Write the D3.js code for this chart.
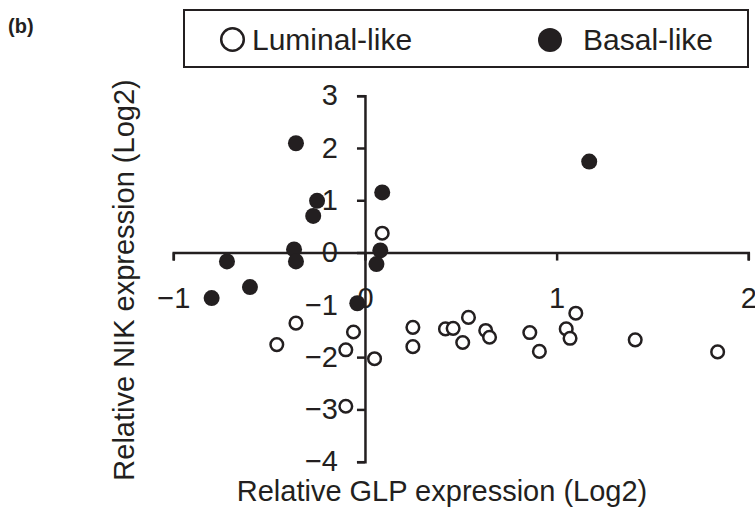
<!DOCTYPE html>
<html>
<head>
<meta charset="utf-8">
<script src="https://cdn.jsdelivr.net/npm/d3@7"></script>
<style>
  body { margin: 0; background: #fff; }
  text { font-family: "Liberation Sans", Arial, Helvetica, sans-serif; fill: #231f20; }
</style>
</head>
<body>
<script>
// luminal-like samples (open circles): [GLP, NIK]
const luminal = [
  [0.09, 0.37], [-0.36, -1.35], [-0.46, -1.76], [-0.06, -1.52], [-0.10, -1.86],
  [0.05, -2.03], [-0.10, -2.94], [0.25, -1.43], [0.25, -1.80], [0.42, -1.46],
  [0.46, -1.45], [0.54, -1.24], [0.51, -1.72], [0.63, -1.49], [0.65, -1.62],
  [0.86, -1.53], [0.91, -1.89], [1.10, -1.16], [1.05, -1.46], [1.07, -1.64],
  [1.41, -1.67], [1.84, -1.90]
];
// basal-like samples (filled circles)
const basal = [
  [-0.36, 2.09], [-0.25, 0.99], [-0.27, 0.70], [0.09, 1.15], [-0.37, 0.06],
  [-0.36, -0.17], [-0.72, -0.17], [-0.60, -0.66], [-0.80, -0.87], [0.08, 0.04],
  [0.06, -0.22], [-0.04, -0.97], [1.17, 1.74]
];
const xTicks = [-1, 0, 1, 2];
const yTicks = [3, 2, 1, 0, -1, -2, -3, -4];
const legendLabels = ["Luminal-like", "Basal-like"];

const width = 755, height = 508;
const fmt = d => d < 0 ? "\u2212" + Math.abs(d) : "" + d;

const svg = d3.select("body").append("svg")
  .attr("width", width)
  .attr("height", height);

const x = d3.scaleLinear().domain([-1, 2]).range([173.3, 748.3]);
const y = d3.scaleLinear().domain([-4, 3]).range([461.7, 95.7]);

// axes cross at the origin
const gx = svg.append("g")
  .attr("transform", "translate(0," + y(0) + ")")
  .call(d3.axisBottom(x).tickValues(xTicks).tickFormat(fmt)
    .tickSizeInner(8).tickSizeOuter(8).tickPadding(27));

const gy = svg.append("g")
  .attr("transform", "translate(" + x(0) + ",0)")
  .call(d3.axisLeft(y).tickValues(yTicks).tickFormat(fmt)
    .tickSizeInner(8).tickSizeOuter(8).tickPadding(19));

[gx, gy].forEach(function (g) {
  g.select(".domain").attr("stroke", "#231f20").attr("stroke-width", 2.5);
  g.selectAll(".tick line").attr("stroke", "#231f20").attr("stroke-width", 2.5);
  g.selectAll(".tick text").attr("font-size", 29).attr("fill", "#231f20")
    .style("font-family", "'Liberation Sans', Arial, Helvetica, sans-serif");
});

svg.append("g").selectAll("circle")
  .data(luminal).join("circle")
  .attr("cx", d => x(d[0]))
  .attr("cy", d => y(d[1]))
  .attr("r", 6.3)
  .attr("fill", "#fff")
  .attr("stroke", "#231f20")
  .attr("stroke-width", 2.5);

svg.append("g").selectAll("circle")
  .data(basal).join("circle")
  .attr("cx", d => x(d[0]))
  .attr("cy", d => y(d[1]))
  .attr("r", 8)
  .attr("fill", "#231f20");

// axis titles
svg.append("text")
  .attr("x", 442).attr("y", 501)
  .attr("text-anchor", "middle")
  .attr("font-size", 29)
  .text("Relative GLP expression (Log2)");

svg.append("text")
  .attr("transform", "translate(134,280) rotate(-90)")
  .attr("text-anchor", "middle")
  .attr("font-size", 29)
  .text("Relative NIK expression (Log2)");

// panel letter
svg.append("text")
  .attr("x", 8).attr("y", 33)
  .attr("font-size", 20)
  .attr("font-weight", "bold")
  .text("(b)");

// legend
const legend = svg.append("g");
legend.append("rect")
  .attr("x", 184).attr("y", 10)
  .attr("width", 564).attr("height", 57)
  .attr("fill", "#fff")
  .attr("stroke", "#231f20")
  .attr("stroke-width", 2);

legend.append("circle")
  .attr("cx", 232.5).attr("cy", 39.5).attr("r", 11.3)
  .attr("fill", "#fff").attr("stroke", "#231f20").attr("stroke-width", 2.5);
legend.append("text")
  .attr("x", 252).attr("y", 50)
  .attr("font-size", 30)
  .text(legendLabels[0]);

legend.append("circle")
  .attr("cx", 550).attr("cy", 40).attr("r", 12)
  .attr("fill", "#231f20");
legend.append("text")
  .attr("x", 583).attr("y", 50)
  .attr("font-size", 30)
  .text(legendLabels[1]);
</script>
</body>
</html>
